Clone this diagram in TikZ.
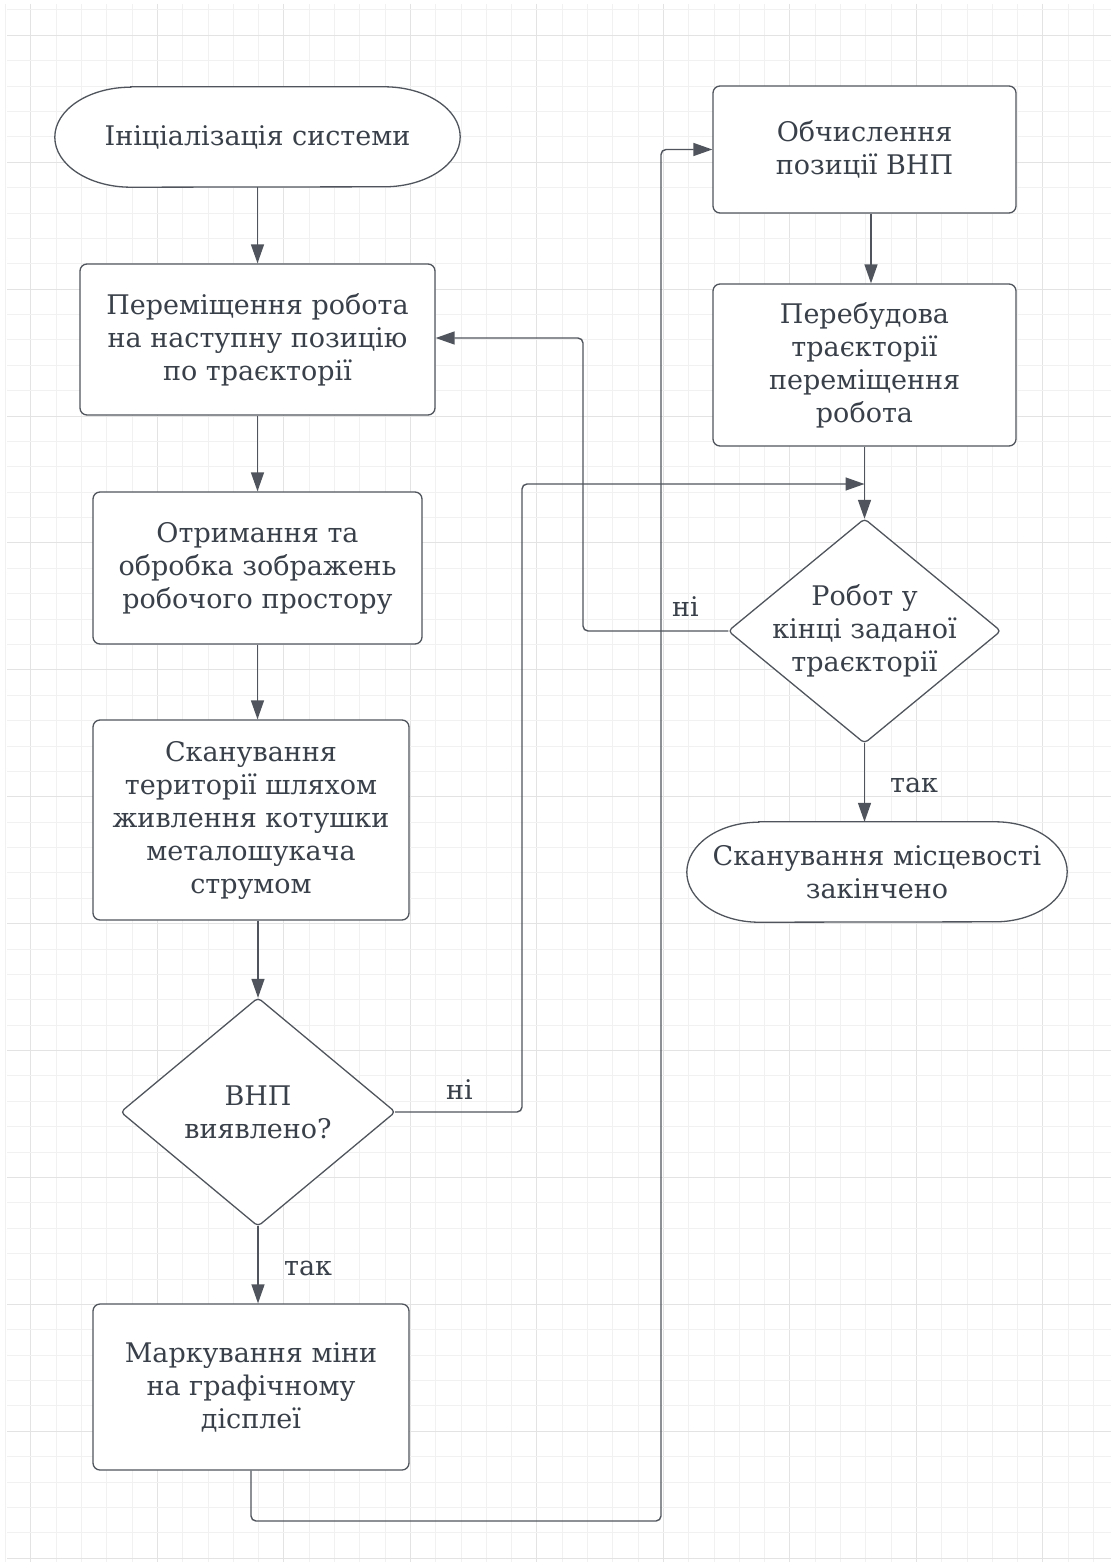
\documentclass[tikz,border=0pt]{standalone}
\usepackage{fontspec}
\setmainfont{DejaVu Serif}
\usetikzlibrary{arrows.meta,calc}
\definecolor{txt}{HTML}{3A4049}
\definecolor{ln}{HTML}{50555D}
\definecolor{gmin}{HTML}{F1F1F1}
\definecolor{gmaj}{HTML}{E3E3E3}
\tikzset{
  every node/.style={text=txt,font=\fontsize{27}{33}\selectfont},
  box/.style={draw=ln,line width=1.3pt,fill=white,rounded corners=7pt,align=center,inner sep=0pt},
  hidden/.style={inner sep=0pt,align=center},
  conn/.style={draw=ln,line width=1.4pt,rounded corners=5pt,-{Triangle[length=19pt,width=13pt]}},
  lbl/.style={inner sep=0pt,anchor=west},
  shp/.style={draw=ln,line width=1.3pt,fill=white},
}
\begin{document}
\begin{tikzpicture}[x=1pt,y=-1pt]
\useasboundingbox (0,0) rectangle (1111,1562);
\fill[white] (0,0) rectangle (1111,1562);
% grid
\foreach \k in {0,...,43} {
  \pgfmathtruncatemacro{\m}{mod(\k,5)}
  \ifnum\m=1 \def\gc{gmaj}\else\def\gc{gmin}\fi
  \draw[\gc,line width=1pt] ({5.6+25.3*\k},4) -- ({5.6+25.3*\k},1562);
}
\foreach \k in {0,...,61} {
  \pgfmathtruncatemacro{\m}{mod(\k,5)}
  \ifnum\m=1 \def\gc{gmaj}\else\def\gc{gmin}\fi
  \draw[\gc,line width=1pt] (7,{10+25.38*\k}) -- (1111,{10+25.38*\k});
}
% terminals
\node[hidden,minimum width=405pt,minimum height=100pt] (init) at (257.5,137) {};
\draw[shp] ([xshift=76pt]init.north west) -- ([xshift=-76pt]init.north east)
  arc[start angle=90,end angle=-90,x radius=76pt,y radius=50pt]
  -- ([xshift=76pt]init.south west)
  arc[start angle=270,end angle=90,x radius=76pt,y radius=50pt] -- cycle;
\node[hidden] at (init) {Ініціалізація системи};

\node[hidden,minimum width=380pt,minimum height=100pt] (fin) at (877,872) {};
\draw[shp] ([xshift=72pt]fin.north west) -- ([xshift=-72pt]fin.north east)
  arc[start angle=90,end angle=-90,x radius=72pt,y radius=50pt]
  -- ([xshift=72pt]fin.south west)
  arc[start angle=270,end angle=90,x radius=72pt,y radius=50pt] -- cycle;
\node[hidden] at (fin) {Сканування місцевості\\закінчено};

% boxes
\node[box,minimum width=355pt,minimum height=151pt] (move) at (257.5,339.5) {Переміщення робота\\на наступну позицію\\по траєкторії};
\node[box,minimum width=329pt,minimum height=152pt] (img) at (257.5,568) {Отримання та\\обробка зображень\\робочого простору};
\node[box,minimum width=316pt,minimum height=200pt] (scan) at (251,820) {Сканування\\території шляхом\\живлення котушки\\металошукача\\струмом};
\node[box,minimum width=316pt,minimum height=166pt] (mark) at (251,1387) {Маркування міни\\на графічному\\дісплеї};
\node[box,minimum width=303pt,minimum height=127pt] (calc) at (864.5,149.5) {Обчислення\\позиції ВНП};
\node[box,minimum width=303pt,minimum height=162pt] (rebuild) at (864.5,365) {Перебудова\\траєкторії\\переміщення\\робота};

% diamonds
\node[hidden,minimum width=274pt,minimum height=228pt] (det) at (258,1112) {};
\draw[shp,rounded corners=4pt] (det.north) -- (det.east) -- (det.south) -- (det.west) -- cycle;
\node[hidden] at (det) {ВНП\\виявлено?};

\node[hidden,minimum width=272pt,minimum height=224pt] (end) at (864.5,631) {};
\draw[shp,rounded corners=4pt] (end.north) -- (end.east) -- (end.south) -- (end.west) -- cycle;
\node[hidden] at (end) {Робот у\\кінці заданої\\траєкторії};

% connectors
\draw[conn] (init) -- (move);
\draw[conn] (move) -- (img);
\draw[conn] (img.south) -- (img.south |- scan.north);
\draw[conn] (det.north |- scan.south) -- (det.north);
\draw[conn] (det.south) -- (det.south |- mark.north);
\coordinate (c1) at (661,1521);
\draw[conn] (mark.south) |- (c1) |- (calc.west);
\draw[conn] ([xshift=6.5pt]calc.south) -- ([xshift=6.5pt]rebuild.north);
\draw[conn] (rebuild.south) -- (end.north);
\coordinate (c2) at (522,484);
\draw[conn] (det.east) -| (c2) -- (end.north |- c2);
\coordinate (c3) at (583,338);
\draw[conn] (end.west) -| (c3) -- (move.east |- c3);
\draw[conn] (end.south) -- (end.south |- fin.north);

% labels
\node[lbl] (l1) at (284,1268) {так};
\node[lbl] (l2) at (446,1090) {ні};
\node[lbl] (l3) at (672,607) {ні};
\node[lbl] (l4) at (890,785) {так};
\end{tikzpicture}
\end{document}
